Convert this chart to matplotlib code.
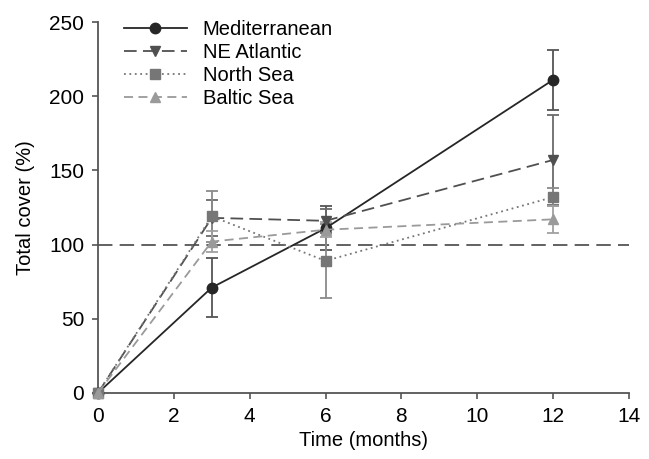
import numpy as np
import matplotlib
matplotlib.use("Agg")
import matplotlib.pyplot as plt

plt.rcParams['font.family'] = ['Liberation Sans', 'DejaVu Sans']

months = [0, 3, 6, 12]
series = ['Mediterranean', 'NE Atlantic', 'North Sea', 'Baltic Sea']
values = {
    'Mediterranean': [0, 71, 111, 211],
    'NE Atlantic': [0, 118, 116, 157],
    'North Sea': [0, 119, 89, 132],
    'Baltic Sea': [0, 102, 110, 117],
}
errors = {
    'Mediterranean': [0, 20, 15, 20],
    'NE Atlantic': [0, 12, 8, 30],
    'North Sea': [0, 17, 25, 6],
    'Baltic Sea': [0, 7, 5, 9],
}
reference = 100

styles = {
    'Mediterranean': dict(color='#262626', ls='-', marker='o', ms=7.5, ecolor='#555555'),
    'NE Atlantic': dict(color='#505050', ls=(0, (7, 3.5)), marker='v', ms=7.5, ecolor='#6a6a6a'),
    'North Sea': dict(color='#767676', ls=(0, (1, 2)), marker='s', ms=6.5, ecolor='#8a8a8a'),
    'Baltic Sea': dict(color='#9a9a9a', ls=(0, (5, 3)), marker='^', ms=7.5, ecolor='#a0a0a0'),
}

fig = plt.figure(figsize=(6.49, 4.59), dpi=100)
ax = fig.add_axes([0.151, 0.144, 0.818, 0.808])

ax.axhline(reference, color='#555555', lw=1.3, ls=(0, (8, 4)), zorder=1)

for name in series:
    s = styles[name]
    ax.errorbar(months, values[name], yerr=errors[name], fmt='none',
                ecolor=s['ecolor'], elinewidth=1.3, capsize=4, capthick=1.3,
                zorder=2)
    ax.plot(months, values[name], color=s['color'], ls=s['ls'], lw=1.3,
            marker=s['marker'], ms=s['ms'], mfc=s['color'], mec=s['color'],
            label=name, zorder=3, clip_on=False)

ax.set_xlim(0, 14)
ax.set_ylim(0, 250)
ax.set_xticks(range(0, 15, 2))
ax.set_yticks(range(0, 251, 50))
ax.spines['top'].set_visible(False)
ax.spines['right'].set_visible(False)
for sp in ['left', 'bottom']:
    ax.spines[sp].set_color('#555555')
    ax.spines[sp].set_linewidth(1.3)
ax.tick_params(direction='out', length=4, width=1.2, color='#555555',
               labelsize=15, pad=6)
ax.set_xlabel('Time (months)', fontsize=14.5, labelpad=4)
ax.set_ylabel('Total cover (%)', fontsize=14.5, labelpad=10)

ax.legend(loc='upper left', bbox_to_anchor=(0.015, 1.055), frameon=False,
          fontsize=14.5, handlelength=3.1, labelspacing=0.2, handletextpad=0.8)

fig.savefig('out.png', dpi=100)
